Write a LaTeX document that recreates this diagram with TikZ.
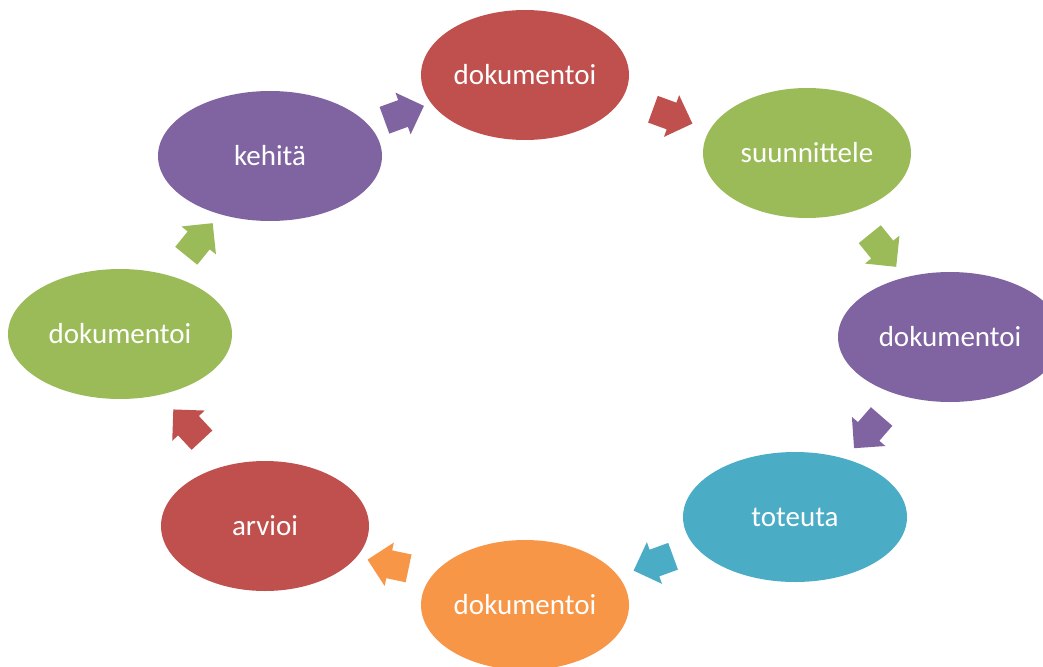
\documentclass[tikz,border=0pt]{standalone}
\usepackage{fontspec}
\setmainfont{Carlito}
\usetikzlibrary{shapes.geometric,shapes.arrows,calc}
\definecolor{redA}{HTML}{C0504D}
\definecolor{greenA}{HTML}{9BBB59}
\definecolor{purpleA}{HTML}{8064A2}
\definecolor{blueA}{HTML}{4BACC6}
\definecolor{orangeA}{HTML}{F79646}
\tikzset{
  stage/.style={ellipse, draw=none, minimum width=224pt, minimum height=130pt,
    inner sep=0pt, text=white, font=\fontsize{29}{34}\selectfont},
  narrow/.style={minimum width=208pt},
  cyclearrow/.style={single arrow, draw=none, minimum height=42pt,
    text width=0pt, text height=14pt, text depth=14pt,
    single arrow head extend=8pt, inner sep=0pt}
}
\begin{document}
\begin{tikzpicture}[x=1pt,y=-1pt]
      \useasboundingbox (0,0) rectangle (1043,666);
      \clip (0,0) rectangle (1043,666);
      \draw
        (525,75) node[stage, narrow, fill=redA] (doc1){dokumentoi}
        (807,153) node[stage, narrow, fill=greenA] (plan){suunnittele}
        (950,337) node[stage, fill=purpleA] (doc2){dokumentoi}
        (795,517) node[stage, fill=blueA] (impl){toteuta}
        (525,605) node[stage, narrow, fill=orangeA] (doc3){dokumentoi}
        (265,526) node[stage, narrow, fill=redA] (eval){arvioi}
        (120,334) node[stage, fill=greenA] (doc4){dokumentoi}
        (270,156) node[stage, fill=purpleA] (dev){kehitä};
      \begin{scope}[every node/.style=cyclearrow]
        \draw ($(dev)!0.5!(doc1)$) node[fill=purpleA, rotate=20] (a1){};
        \draw ($(doc1)!0.5!(plan)$) node[fill=redA, rotate=-20] (a2){};
        \draw ($(plan)!0.5!(doc2)$) node[fill=greenA, rotate=-51] (a3){};
        \draw ($(doc2)!0.5!(impl)$) node[fill=purpleA, rotate=-131] (a4){};
        \draw ($(impl)!0.5!(doc3)$) node[fill=blueA, rotate=200] (a5){};
        \draw ($(doc3)!0.5!(eval)$) node[fill=orangeA, rotate=168] (a6){};
        \draw ($(eval)!0.5!(doc4)$) node[fill=redA, rotate=133] (a7){};
        \draw ($(doc4)!0.5!(dev)$) node[fill=greenA, rotate=51] (a8){};
      \end{scope}
    \end{tikzpicture}
\end{document}
